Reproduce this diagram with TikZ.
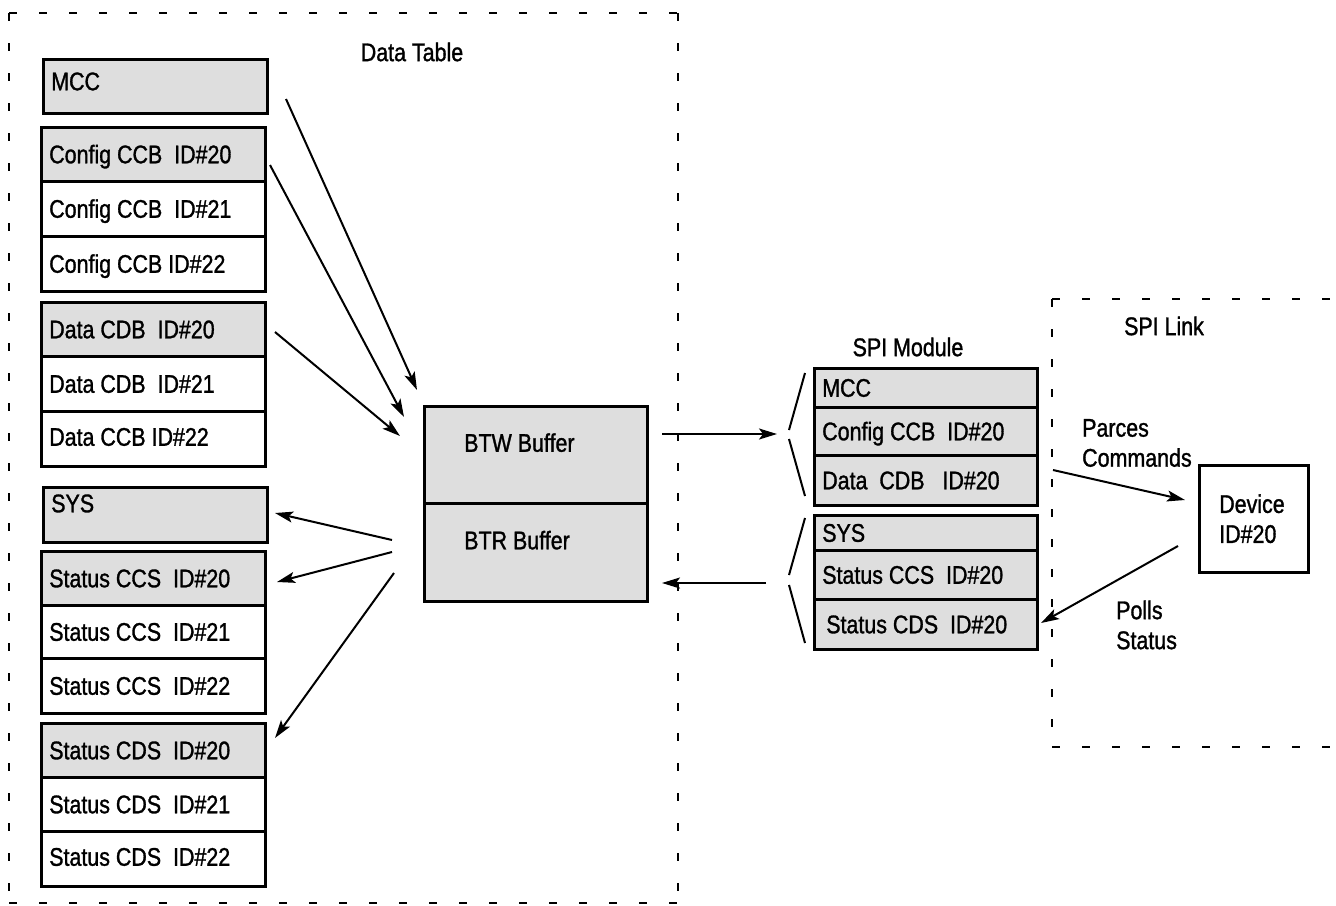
\documentclass[tikz,border=0pt]{standalone}
\usepackage{fontspec}
\setmainfont{Liberation Sans}[FakeStretch=0.84, FakeBold=1.2]
\usetikzlibrary{arrows.meta,calc}
\definecolor{boxgray}{RGB}{222,222,222}
\begin{document}
\begin{tikzpicture}[x=1pt,y=-1pt,
  every node/.style={font=\fontsize{25.5}{30}\selectfont, inner sep=0pt},
  cell/.style={draw, line width=2.5pt, anchor=north west, minimum width=224pt,
    align=flush left, text width=208pt, inner xsep=8pt, text height=18pt, text depth=0pt},
  gcell/.style={cell, fill=boxgray},
  wcell/.style={cell, fill=white},
  scell/.style={draw, line width=2.5pt, anchor=north west, minimum width=223pt, fill=boxgray,
    align=flush left, text width=207pt, inner xsep=8pt, text height=18pt, text depth=0pt},
  bufbox/.style={draw, line width=2.5pt, anchor=north west, minimum width=223pt, fill=boxgray,
    align=flush left, text width=143pt, inner xsep=40pt, text height=18pt, text depth=24pt},
  devbox/.style={draw, line width=2.5pt, anchor=north west, minimum width=109pt, minimum height=107pt,
    align=flush left, text width=69pt, inner xsep=20pt, fill=white},
  lbl/.style={align=left},
  frame/.style={line width=2.7pt, dash pattern=on 7.5pt off 22.5pt},
  conn/.style={line width=2pt, -{Stealth[length=18pt,width=11pt,inset=4pt]}},
  brk/.style={line width=2pt}
]
\useasboundingbox (0,0) rectangle (1336,905);

% Data Table frame
\coordinate (dtnw) at (9,13);
\coordinate (dtne) at (678,13);
\coordinate (dtsw) at (9,903);
\coordinate (dtse) at (678,903);
\draw[frame] (dtnw) -- (dtne);
\draw[frame] (dtnw) -- (dtsw);
\draw[frame] (dtne) -- (dtse);
\draw[frame] (dtsw) -- (dtse);
\node (dtlabel) at (412,52) {Data Table};

% SPI Link frame
\coordinate (slnw) at (1052,299);
\coordinate (slne) at (1340,299);
\coordinate (slsw) at (1052,747);
\coordinate (slse) at (1340,747);
\draw[frame] (slnw) -- (slne);
\draw[frame] (slnw) -- (slsw);
\draw[frame] (slsw) -- (slse);
\node (sllabel) at (1164,326) {SPI Link};

% Left column
\node[gcell, minimum height=54pt, text depth=10pt] (mcc) at (42,58) {MCC};
\node[gcell, minimum height=54pt] (ccb20) at (40,126) {Config CCB~ ID\#20};
\node[wcell, minimum height=55pt] (ccb21) at (40,180) {Config CCB~ ID\#21};
\node[wcell, minimum height=55pt] (ccb22) at (40,235) {Config CCB ID\#22};
\node[gcell, minimum height=54pt] (cdb20) at (40,301) {Data CDB~ ID\#20};
\node[wcell, minimum height=55pt] (cdb21) at (40,355) {Data CDB~ ID\#21};
\node[wcell, minimum height=55pt, text depth=4pt] (cdb22) at (40,410) {Data CCB ID\#22};
\node[gcell, minimum height=55pt, text depth=23pt] (sys) at (42,486) {SYS};
\node[gcell, minimum height=54pt] (ccs20) at (40,550) {Status CCS~ ID\#20};
\node[wcell, minimum height=53pt] (ccs21) at (40,604) {Status CCS~ ID\#21};
\node[wcell, minimum height=55pt] (ccs22) at (40,657) {Status CCS~ ID\#22};
\node[gcell, minimum height=54pt] (cds20) at (40,722) {Status CDS~ ID\#20};
\node[wcell, minimum height=54pt] (cds21) at (40,776) {Status CDS~ ID\#21};
\node[wcell, minimum height=55pt, text depth=4pt] (cds22) at (40,830) {Status CDS~ ID\#22};

% Buffers
\node[bufbox, minimum height=97pt] (btw) at (423,405) {BTW Buffer};
\node[bufbox, minimum height=98pt] (btr) at (423,502) {BTR Buffer};

% SPI module
\node (smlabel) at (908,347) {SPI Module};
\node[scell, minimum height=39pt] (smcc) at (813,367) {MCC};
\node[scell, minimum height=48pt] (sccb) at (813,406) {Config CCB~ ID\#20};
\node[scell, minimum height=50pt] (scdb) at (813,454) {Data~ CDB~~ ID\#20};
\node[scell, minimum height=35pt] (ssys) at (813,514) {SYS};
\node[scell, minimum height=49pt] (sccs) at (813,549) {Status CCS~ ID\#20};
\node[scell, minimum height=50pt] (scds) at (813,598) {\hspace*{4pt}Status CDS~ ID\#20};

% Device
\node[devbox] (dev) at (1198,464) {Device\\ID\#20};
\node[lbl, anchor=west] (parces) at (1082,443) {Parces\\Commands};
\node[lbl, anchor=west] (polls) at (1116,625) {Polls\\Status};

% connector end points
\coordinate (a1s) at (286,99);   \coordinate (a1e) at (417,390);
\coordinate (a2s) at (270,165);  \coordinate (a2e) at (404,417);
\coordinate (a3s) at (275,332);  \coordinate (a3e) at (400,436);
\coordinate (a4s) at (392,540);  \coordinate (a4e) at (275,513);
\coordinate (a5s) at (392,552);  \coordinate (a5e) at (277,582);
\coordinate (a6s) at (394,573);  \coordinate (a6e) at (275,738);
\coordinate (a7s) at (662,434);  \coordinate (a7e) at (777,434);
\coordinate (a8s) at (766,583);  \coordinate (a8e) at (662,583);
\coordinate (a9s) at (1053,470); \coordinate (a9e) at (1185,500);
\coordinate (a10s) at (1178,546); \coordinate (a10e) at (1041,623);

\draw[conn] (a1s) -- (a1e);
\draw[conn] (a2s) -- (a2e);
\draw[conn] (a3s) -- (a3e);
\draw[conn] (a4s) -- (a4e);
\draw[conn] (a5s) -- (a5e);
\draw[conn] (a6s) -- (a6e);
\draw[conn] (a7s) -- (a7e);
\draw[conn] (a8s) -- (a8e);
\draw[conn] (a9s) -- (a9e);
\draw[conn] (a10s) -- (a10e);

% brackets
\coordinate (b1a) at (805,373); \coordinate (b1b) at (789,430);
\coordinate (b1c) at (789,439); \coordinate (b1d) at (805,496);
\coordinate (b2a) at (805,518); \coordinate (b2b) at (789,575);
\coordinate (b2c) at (789,585); \coordinate (b2d) at (805,643);
\draw[brk] (b1a) -- (b1b);
\draw[brk] (b1c) -- (b1d);
\draw[brk] (b2a) -- (b2b);
\draw[brk] (b2c) -- (b2d);
\end{tikzpicture}
\end{document}
